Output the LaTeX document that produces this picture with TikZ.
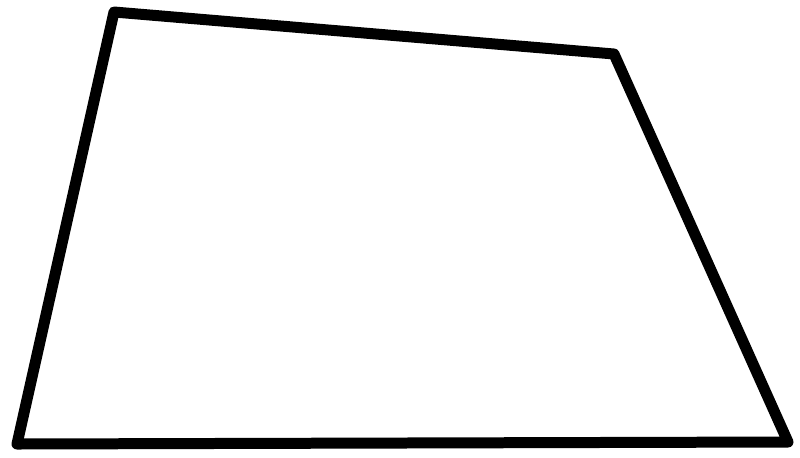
\documentclass[tikz,border=0pt]{standalone}
\begin{document}
\begin{tikzpicture}[x=0.02cm,y=-0.02cm]
      \useasboundingbox (0,0) rectangle (800,457);
      \coordinate (tl) at (114,12);
      \coordinate (tr) at (614,54);
      \coordinate (br) at (788,442);
      \coordinate (bl) at (17,444);
      \begin{scope}[line width=0.22cm,line join=round]
        \draw (tl) -- (tr) -- (br) -- (bl) -- cycle;
      \end{scope}
    \end{tikzpicture}
\end{document}
